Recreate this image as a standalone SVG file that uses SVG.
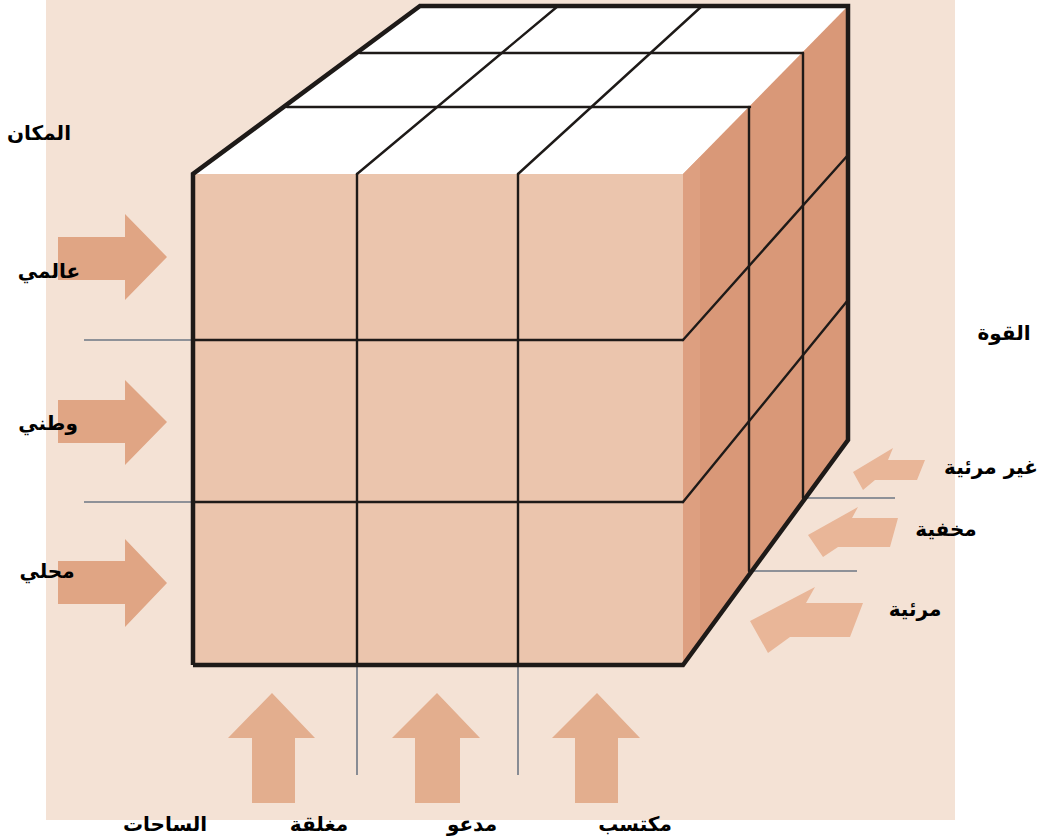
<svg xmlns="http://www.w3.org/2000/svg" width="1048" height="840" viewBox="0 0 1048 840">
<style>
.thin{stroke:#1e1a18;stroke-width:2.4;fill:none;stroke-linecap:round}
.thick{stroke:#1e1a18;stroke-width:4.5;fill:none;stroke-linejoin:miter}
.guide{stroke:#6d7683;stroke-width:1.6;fill:none}
.lbl{font-family:"DejaVu Sans","Noto Sans",sans-serif;font-weight:bold;font-size:20px;fill:#000;text-anchor:middle}
.arL{fill:#e0a584}
.arB{fill:#e3ae8e}
.arR{fill:#e9b698}
</style>
<rect x="0" y="0" width="1048" height="840" fill="#ffffff"/>
<rect id="background" x="46" y="0" width="909" height="820" fill="#f4e2d5"/>

<g id="guides">
<line class="guide" x1="84" y1="340" x2="193" y2="340"/>
<line class="guide" x1="84" y1="502" x2="193" y2="502"/>
<line class="guide" x1="357" y1="665" x2="357" y2="775"/>
<line class="guide" x1="518" y1="665" x2="518" y2="775"/>
<line class="guide" x1="803" y1="498" x2="895" y2="498"/>
<line class="guide" x1="749" y1="571" x2="857" y2="571"/>
</g>

<g id="arrows">
<polygon id="arrow-global" class="arL" points="58,237 125,237 125,214 167,257 125,300 125,280 58,280"/>
<polygon id="arrow-national" class="arL" points="58,400 125,400 125,380 167,422 125,465 125,443 58,443"/>
<polygon id="arrow-local" class="arL" points="58,561 125,561 125,539 167,583 125,627 125,604 58,604"/>
<polygon id="arrow-closed" class="arB" points="252,803 252,738 228,738 272,693 315,738 295,738 295,803"/>
<polygon id="arrow-invited" class="arB" points="415,803 415,738 392,738 437,693 480,738 460,738 460,803"/>
<polygon id="arrow-claimed" class="arB" points="575,803 575,738 552,738 597,693 640,738 618,738 618,803"/>
<polygon id="arrow-invisible" class="arR" points="853,472 893,448 888,460 925,460 917,480 875,480 863,490"/>
<polygon id="arrow-hidden" class="arR" points="808,535 858,507 852,518 898,518 890,547 838,547 823,557"/>
<polygon id="arrow-visible" class="arR" points="750,621 815,587 806,603 863,603 850,637 790,637 768,653"/>
</g>

<g id="cube">
<polygon id="top-face" points="193,174 420,6 848,6 683,174" fill="#ffffff"/>
<polygon id="right-face" points="683,174 848,6 848,440 683,665" fill="#d99878"/>
<polygon points="683,174 700,157 700,642 683,665" fill="#e0a386" opacity="0.6"/>
<rect id="front-face" x="193" y="174" width="490" height="491" fill="#ebc5ad"/>
<line class="thin" x1="287" y1="107" x2="750" y2="107"/>
<line class="thin" x1="360" y1="53" x2="803" y2="53"/>
<line class="thin" x1="357" y1="174" x2="558" y2="6"/>
<line class="thin" x1="518" y1="174" x2="702" y2="6"/>
<line class="thin" x1="357" y1="174" x2="357" y2="665"/>
<line class="thin" x1="518" y1="174" x2="518" y2="665"/>
<line class="thin" x1="193" y1="340" x2="683" y2="340"/>
<line class="thin" x1="193" y1="502" x2="683" y2="502"/>
<line class="thin" x1="683" y1="340" x2="848" y2="155"/>
<line class="thin" x1="683" y1="502" x2="848" y2="300"/>
<line class="thin" x1="749" y1="107" x2="749" y2="571"/>
<line class="thin" x1="803" y1="53" x2="803" y2="498"/>
<polyline class="thick" points="193,665 193,174 420,6 848,6 848,440 683,665 193,665"/>
</g>

<g id="labels">
<text id="lbl-place" class="lbl" x="39" y="140">المكان</text>
<text id="lbl-global" class="lbl" x="49" y="278">عالمي</text>
<text id="lbl-national" class="lbl" x="48" y="430">وطني</text>
<text id="lbl-local" class="lbl" x="47" y="578">محلي</text>
<text id="lbl-power" class="lbl" x="1004" y="340">القوة</text>
<text id="lbl-invisible" class="lbl" x="991" y="474">غير مرئية</text>
<text id="lbl-hidden" class="lbl" x="946" y="536">مخفية</text>
<text id="lbl-visible" class="lbl" x="915" y="616">مرئية</text>
<text id="lbl-spaces" class="lbl" x="165" y="831">الساحات</text>
<text id="lbl-closed" class="lbl" x="319" y="831">مغلقة</text>
<text id="lbl-invited" class="lbl" x="472" y="831">مدعو</text>
<text id="lbl-claimed" class="lbl" x="635" y="831">مكتسب</text>
</g>
</svg>
